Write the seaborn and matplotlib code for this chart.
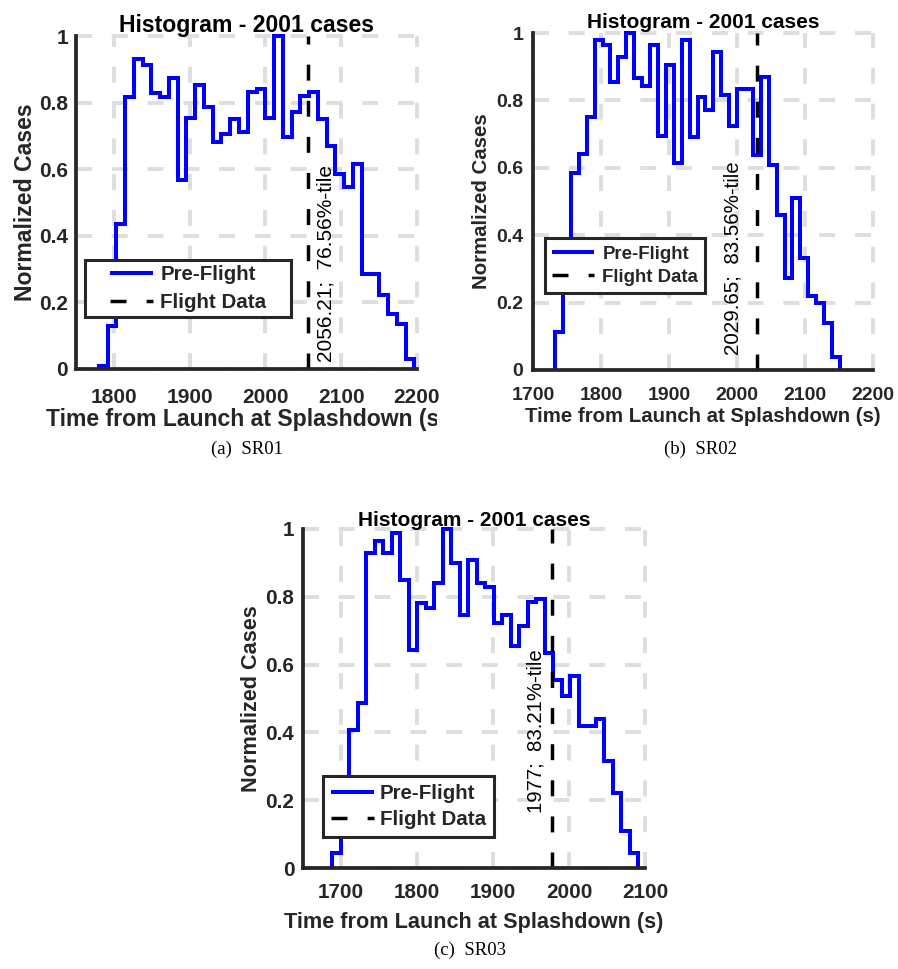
import numpy as np
import seaborn as sns
import matplotlib.pyplot as plt
from matplotlib.lines import Line2D
from matplotlib.path import Path
from matplotlib.transforms import Bbox, TransformedBbox

# ---------------------------------------------------------------- data
# Normalized splashdown-time histograms (2001 Monte Carlo cases each)
sr01_bin_start = 1780.0
sr01_bin_width = 11.57
sr01_norm = [0.01, 0.13, 0.434, 0.817, 0.932, 0.912, 0.829, 0.817, 0.875, 0.569,
             0.753, 0.852, 0.787, 0.681, 0.706, 0.751, 0.713, 0.832, 0.842, 0.753,
             1.0, 0.696, 0.772, 0.82, 0.832, 0.751, 0.671, 0.586, 0.546, 0.616,
             0.286, 0.286, 0.223, 0.165, 0.135, 0.03]
sr01_flight = 2056.21
sr01_pct = 76.56

sr02_bin_start = 1732.4
sr02_bin_width = 11.64
sr02_norm = [0.112, 0.33, 0.584, 0.642, 0.75, 0.978, 0.965, 0.856, 0.93, 1.0,
             0.866, 0.844, 0.965, 0.693, 0.906, 0.614, 0.98, 0.691, 0.81, 0.772,
             0.943, 0.817, 0.723, 0.834, 0.834, 0.639, 0.869, 0.607, 0.46, 0.272,
             0.51, 0.332, 0.22, 0.198, 0.139, 0.04]
sr02_flight = 2029.65
sr02_pct = 83.56

sr03_bin_start = 1688.2
sr03_bin_width = 11.2
sr03_norm = [0.044, 0.2, 0.408, 0.487, 0.929, 0.964, 0.929, 0.988, 0.85, 0.644,
             0.782, 0.767, 0.84, 1.0, 0.9, 0.747, 0.91, 0.84, 0.829, 0.723,
             0.747, 0.654, 0.715, 0.784, 0.794, 0.634, 0.556, 0.506, 0.565, 0.418,
             0.418, 0.44, 0.317, 0.221, 0.11, 0.044]
sr03_flight = 1977.0
sr03_pct = 83.21

y_ticks = [0, 0.2, 0.4, 0.6, 0.8, 1]
y_tick_labels = ["0", "0.2", "0.4", "0.6", "0.8", "1"]
sr01_xticks = [1800, 1900, 2000, 2100, 2200]
sr02_xticks = [1700, 1800, 1900, 2000, 2100, 2200]
sr03_xticks = [1700, 1800, 1900, 2000, 2100]

title_text = "Histogram - 2001 cases"
xlabel_text = "Time from Launch at Splashdown (s)"
ylabel_text = "Normalized Cases"
legend_labels = ["Pre-Flight", "Flight Data"]
captions = ["(a)  SR01", "(b)  SR02", "(c)  SR03"]

# ---------------------------------------------------------------- style
sns.set_style("white")
plt.rcParams["font.family"] = ["Liberation Sans", "DejaVu Sans"]

W, H = 898, 969
AX_COLOR = "#262626"
GRID_COLOR = "#dedede"
BLUE = "#0000ff"

fig = plt.figure(figsize=(W / 100, H / 100), dpi=100)


def px_rect(left, top, right, bottom):
    return [left / W, 1 - bottom / H, (right - left) / W, (bottom - top) / H]


def stair_outline(start, width, heights):
    """Outline of a stairs-style histogram that closes down to zero at both ends."""
    heights = np.asarray(heights, dtype=float)
    edges = start + width * np.arange(len(heights) + 1)
    xs = np.repeat(edges, 2)
    ys = np.concatenate([[0.0], np.repeat(heights, 2), [0.0]])
    return xs, ys


def wide_frame(extra):
    """Legend frame with extra horizontal room (in font-size units)."""
    def box(x0, y0, width, height, mutation_size):
        dx = extra * mutation_size
        verts = [(x0 - dx, y0), (x0 + width + dx, y0), (x0 + width + dx, y0 + height),
                 (x0 - dx, y0 + height), (x0 - dx, y0)]
        return Path(verts, closed=True)
    return box


panels = [
    dict(rect=px_rect(76, 36, 417, 369), start=sr01_bin_start, width=sr01_bin_width,
         heights=sr01_norm, flight=sr01_flight, pct=sr01_pct, xlim=(1750, 2200),
         xticks=sr01_xticks, fs_tick=15, fs_label=16.6, fs_title=16.6, fs_leg=14.8,
         fs_note=15, xpad=13.4, ypad=5.8, title_pad=3.0, xlab_y=-0.118, ylab_x=-0.1155,
         leg_anchor=(85, 317), leg_extra=0.97, leg_bpad=0.25, leg_ls=0.41,
         leg_hl=2.1, leg_htp=0.34, note_dx=13.0, note_y=0.02,
         caption_xy=(247, 449), clip_right=437),
    dict(rect=px_rect(533, 33, 873, 370), start=sr02_bin_start, width=sr02_bin_width,
         heights=sr02_norm, flight=sr02_flight, pct=sr02_pct, xlim=(1700, 2200),
         xticks=sr02_xticks, fs_tick=14, fs_label=14.7, fs_title=15, fs_leg=13.4,
         fs_note=14.8, xpad=12.0, ypad=7.0, title_pad=3.6, xlab_y=-0.11, ylab_x=-0.1235,
         leg_anchor=(545, 293), leg_extra=0.0, leg_bpad=0.39, leg_ls=0.32,
         leg_hl=2.26, leg_htp=0.43, note_dx=-17.3, note_y=0.045,
         caption_xy=(701, 449), clip_right=None),
    dict(rect=px_rect(303, 529, 645, 868), start=sr03_bin_start, width=sr03_bin_width,
         heights=sr03_norm, flight=sr03_flight, pct=sr03_pct, xlim=(1650, 2100),
         xticks=sr03_xticks, fs_tick=14.9, fs_label=15.6, fs_title=15, fs_leg=14.8,
         fs_note=14.7, xpad=11.0, ypad=6.3, title_pad=2.4, xlab_y=-0.129, ylab_x=-0.121,
         leg_anchor=(322.7, 836.7), leg_extra=0.0, leg_bpad=0.38, leg_ls=0.34,
         leg_hl=2.1, leg_htp=0.3, note_dx=-11.5, note_y=0.162,
         caption_xy=(470, 950), clip_right=None),
]

for p in panels:
    ax = fig.add_axes(p["rect"])
    xs, ys = stair_outline(p["start"], p["width"], p["heights"])
    sns.lineplot(x=xs, y=ys, sort=False, estimator=None, ax=ax, color=BLUE,
                 linewidth=2.9, solid_joinstyle="miter", solid_capstyle="butt",
                 clip_on=False, zorder=3)
    ax.axvline(p["flight"], color="black", linewidth=2.5,
               linestyle=(0, (4.6, 5.8)), zorder=4)

    ax.set_xlim(*p["xlim"])
    ax.set_ylim(0, 1)
    ax.set_xticks(p["xticks"])
    ax.set_xticklabels([str(t) for t in p["xticks"]])
    ax.set_yticks(y_ticks)
    ax.set_yticklabels(y_tick_labels)

    ax.grid(True, color=GRID_COLOR, linewidth=2.8, linestyle=(0, (4.1, 5.1)))
    ax.set_axisbelow(True)
    for gl in ax.get_xgridlines() + ax.get_ygridlines():
        gl.set_clip_on(False)

    for side in ("top", "right"):
        ax.spines[side].set_visible(False)
    for side in ("left", "bottom"):
        ax.spines[side].set_linewidth(2.7)
        ax.spines[side].set_color(AX_COLOR)
        ax.spines[side].set_zorder(5)

    ax.tick_params(axis="both", direction="in", length=3.6, width=2.7,
                   color=AX_COLOR, labelcolor=AX_COLOR, labelsize=p["fs_tick"])
    ax.tick_params(axis="x", pad=p["xpad"])
    ax.tick_params(axis="y", pad=p["ypad"])
    for lbl in ax.get_xticklabels() + ax.get_yticklabels():
        lbl.set_fontweight("bold")

    ax.set_title(title_text, fontsize=p["fs_title"], fontweight="bold",
                 color="black", pad=p["title_pad"])
    ax.set_xlabel(xlabel_text, fontsize=p["fs_label"], fontweight="bold", color=AX_COLOR)
    ax.set_ylabel(ylabel_text, fontsize=p["fs_label"], fontweight="bold", color=AX_COLOR)
    ax.xaxis.set_label_coords(0.5, p["xlab_y"])
    ax.yaxis.set_label_coords(p["ylab_x"], 0.5)
    if p["clip_right"] is not None:
        lab = ax.xaxis.label
        lab.set_clip_box(TransformedBbox(Bbox.from_extents(0, 0, p["clip_right"] / W, 1),
                                         fig.transFigure))
        lab.set_clip_on(True)

    note = f"{p['flight']:g};  {p['pct']:.2f}%-tile"
    ax.annotate(note, xy=(p["flight"], p["note_y"]), xytext=(p["note_dx"], 0),
                textcoords="offset points", rotation=90, ha="center", va="bottom",
                fontsize=p["fs_note"], color="black", zorder=6)

    handles = [Line2D([], [], color=BLUE, linewidth=2.9, solid_capstyle="butt"),
               Line2D([], [], color="black", linewidth=2.5, linestyle=(0, (4.6, 5.8)))]
    fs_px = p["fs_leg"] * 100 / 72
    ax_left_px = p["rect"][0] * W
    ax_w_px = p["rect"][2] * W
    ax_bottom_px = (1 - p["rect"][1]) * H
    ax_h_px = p["rect"][3] * H
    anchor_x = (p["leg_anchor"][0] + p["leg_extra"] * fs_px - ax_left_px) / ax_w_px
    anchor_y = (ax_bottom_px - p["leg_anchor"][1]) / ax_h_px
    leg = ax.legend(handles, legend_labels, loc="lower left",
                    bbox_to_anchor=(anchor_x, anchor_y), bbox_transform=ax.transAxes,
                    borderaxespad=0, frameon=True, fancybox=False, framealpha=1,
                    edgecolor=AX_COLOR, prop={"weight": "bold", "size": p["fs_leg"]},
                    handlelength=p["leg_hl"], handletextpad=p["leg_htp"],
                    borderpad=p["leg_bpad"], labelspacing=p["leg_ls"])
    leg.get_frame().set_linewidth(2.2)
    if p["leg_extra"] > 0:
        leg.get_frame().set_boxstyle(wide_frame(p["leg_extra"]))
    leg.set_zorder(7)

for p, cap in zip(panels, captions):
    cx, cy = p["caption_xy"]
    fig.text(cx / W, 1 - cy / H, cap, ha="center", va="center", fontsize=13.5,
             family=["Liberation Serif", "DejaVu Serif"], color="black")

fig.savefig("out.png", dpi=100)
